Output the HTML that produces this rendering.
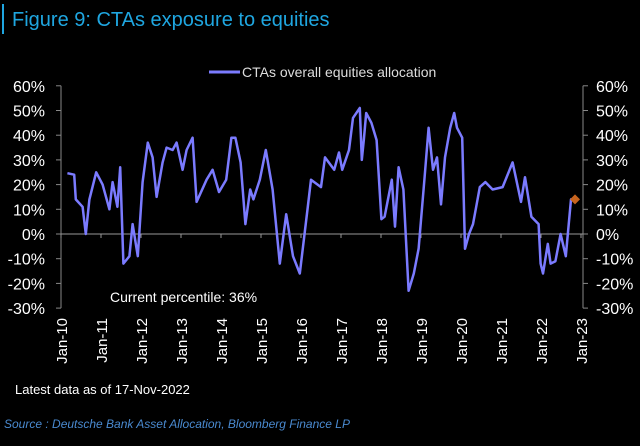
<!DOCTYPE html>
<html><head><meta charset="utf-8"><style>
body{margin:0;background:#000;width:640px;height:441px;overflow:hidden;font-family:"Liberation Sans",sans-serif}
</style></head><body>
<svg width="640" height="441" xmlns="http://www.w3.org/2000/svg">
<rect width="640" height="441" fill="#000"/>
<rect x="2" y="4" width="2" height="30" fill="#1fa6e0"/>
<text x="12" y="26" fill="#1fa6e0" font-size="20" font-family="Liberation Sans, sans-serif">Figure 9: CTAs exposure to equities</text>
<g>
<line x1="209" y1="72" x2="240" y2="72" stroke="#7b7bff" stroke-width="3"/>
<text x="242" y="77" fill="#ddd" font-size="14">CTAs overall equities allocation</text>
</g>
<g id="axes"></g>
<g id="series"></g>
<text x="110" y="302" fill="#fff" font-size="14">Current percentile: 36%</text>
<text x="15" y="394" fill="#fff" font-size="13">Latest data as of 17-Nov-2022</text>
<text x="4" y="428" fill="#4a8ad0" font-size="12" font-style="italic">Source : Deutsche Bank Asset Allocation, Bloomberg Finance LP</text>
</svg>
<script>
const dates=[2010.16,2010.33,2010.37,2010.54,2010.62,2010.71,2010.88,2011.04,2011.21,2011.29,2011.41,2011.48,2011.56,2011.71,2011.79,2011.92,2012.04,2012.17,2012.29,2012.39,2012.54,2012.64,2012.79,2012.89,2013.04,2013.14,2013.29,2013.39,2013.64,2013.79,2013.95,2014.13,2014.26,2014.36,2014.49,2014.61,2014.73,2014.81,2014.97,2015.12,2015.29,2015.47,2015.63,2015.8,2015.97,2016.17,2016.25,2016.5,2016.6,2016.83,2016.95,2017.03,2017.2,2017.3,2017.47,2017.52,2017.57,2017.63,2017.76,2017.89,2018.01,2018.09,2018.27,2018.35,2018.44,2018.56,2018.69,2018.82,2018.94,2019.09,2019.19,2019.3,2019.4,2019.5,2019.6,2019.73,2019.83,2019.9,2020.03,2020.1,2020.2,2020.3,2020.38,2020.47,2020.61,2020.79,2021.04,2021.29,2021.5,2021.6,2021.76,2021.94,2021.99,2022.05,2022.17,2022.24,2022.36,2022.49,2022.62,2022.75,2022.85];
const values=[24.6,24,14,11,0,14,25,20,10,21,11,27,-12,-9,4,-9,21,37,31,15,29,35,34,37,26,34,39,13,22,26,17,22,39,39,29,4,18,14,22,34,18,-12,8,-9,-16,11,22,19,31,26,33,26,34,47,51,30,38,49,45,38,6,7,22,3,27,18,-23,-16,-6,23,43,26,31,12,31,43,49,43,39,-6,0,4,11,19,21,18,19,29,13,23,7,4,-12,-16,-4,-12,-11,0,-9,14,14];
const yTicks=[60,50,40,30,20,10,0,-10,-20,-30];
const xYears=[2010,2011,2012,2013,2014,2015,2016,2017,2018,2019,2020,2021,2022,2023];
const X0=61,X1=581,Y0=234,PPU=2.47;
const xs=d=>X0+(d-2010)/13*(X1-X0);
const ys=v=>Y0-v*PPU;
const NS="http://www.w3.org/2000/svg";
const axes=document.getElementById('axes'),series=document.getElementById('series');
function mk(tag,attrs,parent){const e=document.createElementNS(NS,tag);for(const k in attrs)e.setAttribute(k,attrs[k]);parent.appendChild(e);return e;}
let e;
e=mk('line',{x1:X0,y1:ys(60),x2:X0,y2:ys(-30),stroke:'#888','stroke-width':1},axes);


e=mk('line',{x1:X1+2,y1:ys(60),x2:X1+2,y2:ys(-30),stroke:'#888','stroke-width':1},axes);


e=mk('line',{x1:X0,y1:Y0,x2:X1+2,y2:Y0,stroke:'#999','stroke-width':1},axes);


yTicks.forEach(v=>{
 const y=ys(v);
 mk('line',{x1:X0-5,y1:y,x2:X0,y2:y,stroke:'#888'},axes);
 mk('line',{x1:X1+2,y1:y,x2:X1+7,y2:y,stroke:'#888'},axes);
 e=mk('text',{x:X0-16,y:y+6,fill:'#fff','font-size':16,'text-anchor':'end'},axes);
 e.textContent=v+'%';
 
 
 e=mk('text',{x:X1+15,y:y+6,fill:'#fff','font-size':16},axes);
 e.textContent=v+'%';
 
 
});
xYears.forEach(yr=>{
 const x=xs(yr);
 mk('line',{x1:x,y1:Y0,x2:x,y2:Y0+4,stroke:'#999'},axes);
 e=mk('text',{x:0,y:0,fill:'#fff','font-size':15,'text-anchor':'end',transform:`translate(${x+6},${318}) rotate(-90)`},axes);
 e.textContent='Jan-'+String(yr%100).padStart(2,'0');
 
 
});
const pts=dates.map((d,i)=>xs(d).toFixed(1)+','+ys(values[i]).toFixed(1)).join(' ');
e=mk('polyline',{points:pts,fill:'none',stroke:'#7b7bff','stroke-width':2.5,'stroke-linejoin':'round'},series);


const lx=xs(dates[dates.length-1]),ly=ys(values[values.length-1]);
e=mk('polygon',{points:`${lx},${ly-5} ${lx+5},${ly} ${lx},${ly+5} ${lx-5},${ly}`,fill:'#c8641e'},series);


</script>
</body></html>
